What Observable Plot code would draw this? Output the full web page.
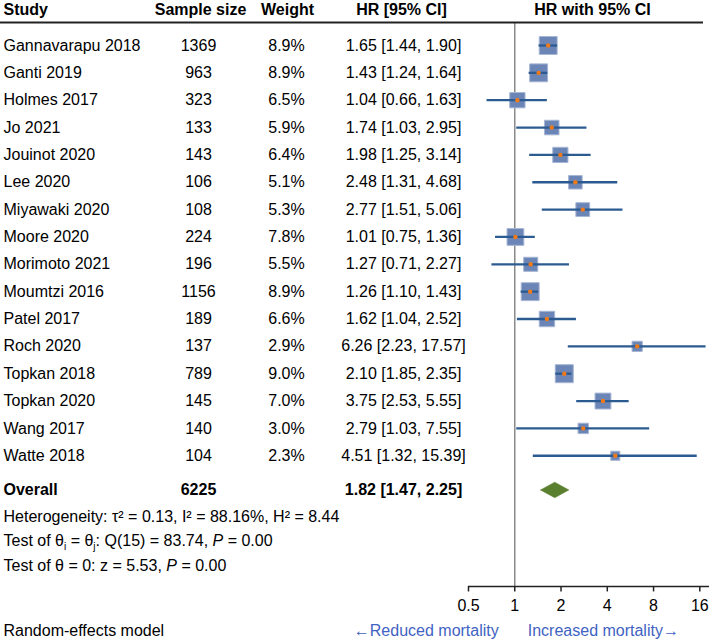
<!DOCTYPE html>
<html>
<head>
<meta charset="utf-8">
<script src="https://cdn.jsdelivr.net/npm/d3@7"></script>
<script src="https://cdn.jsdelivr.net/npm/@observablehq/plot@0.6"></script>
<style>
  html, body { margin: 0; padding: 0; background: #fff; }
  #chart { width: 709px; height: 641px; }
</style>
</head>
<body>
<div id="chart"></div>
<script>
// ---- data ----
const studies = ["Gannavarapu 2018","Ganti 2019","Holmes 2017","Jo 2021","Jouinot 2020","Lee 2020","Miyawaki 2020","Moore 2020","Morimoto 2021","Moumtzi 2016","Patel 2017","Roch 2020","Topkan 2018","Topkan 2020","Wang 2017","Watte 2018"];
const sampleSize = [1369,963,323,133,143,106,108,224,196,1156,189,137,789,145,140,104];
const weights = [8.9,8.9,6.5,5.9,6.4,5.1,5.3,7.8,5.5,8.9,6.6,2.9,9.0,7.0,3.0,2.3];
const hr = [1.65,1.43,1.04,1.74,1.98,2.48,2.77,1.01,1.27,1.26,1.62,6.26,2.10,3.75,2.79,4.51];
const ciLow = [1.44,1.24,0.66,1.03,1.25,1.31,1.51,0.75,0.71,1.10,1.04,2.23,1.85,2.53,1.03,1.32];
const ciHigh = [1.90,1.64,1.63,2.95,3.14,4.68,5.06,1.36,2.27,1.43,2.52,17.57,2.35,5.55,7.55,15.39];
const overallLabel = "Overall";
const overallN = 6225;
const overallHR = 1.82, overallLow = 1.47, overallHigh = 2.25;
const headers = ["Study","Sample size","Weight","HR [95% CI]","HR with 95% CI"];
const statLines = [
  "Heterogeneity: τ² = 0.13, I² = 88.16%, H² = 8.44",
  "Test of θ_i = θ_j: Q(15) = 83.74, *P* = 0.00",
  "Test of θ = 0: z = 5.53, *P* = 0.00"
];
const modelNote = "Random-effects model";
const axisTicks = [0.5, 1, 2, 4, 8, 16];
const axisTickLabels = ["0.5", "1", "2", "4", "8", "16"];
const leftLabel = "←Reduced mortality";
const rightLabel = "Increased mortality→";

// ---- layout ----
const fmt2 = d => d.toFixed(2);
const rows = studies.map((s, i) => ({
  study: s, n: String(sampleSize[i]), w: weights[i], hr: hr[i], lo: ciLow[i], hi: ciHigh[i], i,
  wLabel: weights[i].toFixed(1) + "%",
  ciLabel: `${fmt2(hr[i])} [${fmt2(ciLow[i])}, ${fmt2(ciHigh[i])}]`
}));
const ticks = axisTicks.map((v, i) => ({v, label: axisTickLabels[i]}));
const yHeader = -1.30, yHeaderLine = -0.84, yOverall = 16.25, yAxis = 19.78, yNote = 21.39;
const yTickEnd = 19.98, yTickLabel = 20.5;
const yStats = [17.24, 18.12, 19.01];
const xDomain = [0.5, 18.5];
const dH = 0.285;
const diamond = [
  {x: overallLow, y: yOverall}, {x: overallHR, y: yOverall - dH},
  {x: overallHigh, y: yOverall}, {x: overallHR, y: yOverall + dH},
  {x: overallLow, y: yOverall}
];
const col = {study: 3, n: 198, w: 286, ci: 403};
const hdrCol = [{t: headers[0], dx: 3, a: "start"}, {t: headers[1], dx: 200, a: "middle"},
  {t: headers[2], dx: 287, a: "middle"}, {t: headers[3], dx: 401, a: "middle"}, {t: headers[4], dx: 592, a: "middle"}];

const font = "Liberation Sans, Arial, Helvetica, sans-serif";
const blueLine = "#2b5b91";

const chart = Plot.plot({
  width: 709,
  height: 641,
  marginLeft: 0,
  marginRight: 6,
  marginTop: 0,
  marginBottom: 0,
  style: {fontFamily: font, fontSize: "16px", color: "#000", background: "#fff"},
  x: {type: "log", domain: xDomain, range: [468, 709], axis: null},
  y: {domain: [0, 15], range: [45, 45 + 15 * 27.35], axis: null},
  r: {type: "sqrt", domain: [0, 9], range: [0, 10.16]},
  marks: [
    // reference line at HR = 1
    Plot.ruleX([1], {y1: yHeaderLine, y2: yAxis, stroke: "#8a8a8a", strokeWidth: 1.5}),
    // header rule
    Plot.ruleY([yHeaderLine], {stroke: "#222", strokeWidth: 2}),
    // header texts
    ...hdrCol.map(h =>
      Plot.text([h], {text: "t", y: () => yHeader, frameAnchor: "left", dx: h.dx, textAnchor: h.a, fontWeight: "bold"})),
    // table columns
    Plot.text(rows, {text: "study", y: "i", frameAnchor: "left", dx: col.study, textAnchor: "start"}),
    Plot.text(rows, {text: "n", y: "i", frameAnchor: "left", dx: col.n, textAnchor: "middle"}),
    Plot.text(rows, {text: "wLabel", y: "i", frameAnchor: "left", dx: col.w, textAnchor: "middle"}),
    Plot.text(rows, {text: "ciLabel", y: "i", frameAnchor: "left", dx: col.ci, textAnchor: "middle"}),
    // overall row
    Plot.text([overallLabel], {text: d => d, y: () => yOverall, frameAnchor: "left", dx: col.study, textAnchor: "start", fontWeight: "bold"}),
    Plot.text([overallN], {text: d => String(d), y: () => yOverall, frameAnchor: "left", dx: col.n, textAnchor: "middle", fontWeight: "bold"}),
    Plot.text([overallHR], {text: d => `${fmt2(overallHR)} [${fmt2(overallLow)}, ${fmt2(overallHigh)}]`, y: () => yOverall, frameAnchor: "left", dx: col.ci, textAnchor: "middle", fontWeight: "bold"}),
    // stats
    Plot.text(statLines, {text: d => d, y: (d, i) => yStats[i], frameAnchor: "left", dx: col.study, textAnchor: "start"}),
    Plot.text([modelNote], {text: d => d, y: () => yNote, frameAnchor: "left", dx: col.study, textAnchor: "start"}),
    // forest: squares, CI lines, point dots
    Plot.dot(rows, {x: "hr", y: "i", r: "w", symbol: "square", fill: "#6b85b6", stroke: "#a7b6d4", strokeWidth: 1}),
    Plot.ruleY(rows, {y: "i", x1: "lo", x2: "hi", stroke: blueLine, strokeWidth: 2.3}),
    Plot.dot(rows, {x: "hr", y: "i", r: 2.2, fill: "#f07a1a", stroke: null}),
    // overall diamond
    Plot.line(diamond, {x: "x", y: "y", fill: "#5a7f2e", stroke: "#5a7f2e", strokeWidth: 0.5}),
    // axis
    Plot.ruleY([yAxis], {x1: xDomain[0], x2: xDomain[1], stroke: "#222", strokeWidth: 1.5}),
    Plot.ruleX(ticks, {x: "v", y1: yAxis, y2: yTickEnd, stroke: "#222", strokeWidth: 1.5}),
    Plot.text(ticks, {x: "v", y: () => yTickLabel, text: "label", fill: "#000"}),
    // direction labels
    Plot.text([leftLabel], {text: d => d, x: () => 1, y: () => yNote, textAnchor: "end", dx: -16, fill: "#3f63c2"}),
    Plot.text([rightLabel], {text: d => d, x: () => 1, y: () => yNote, textAnchor: "start", dx: 13, fill: "#3f63c2"})
  ]
});

// rich text: subscripts (_x) and italics (*x*)
d3.select(chart).selectAll("text").each(function () {
  const t = this.textContent;
  if (!/_[a-z]|\*[^*]+\*/.test(t) || this.children.length) return;
  const parts = t.split(/(_[a-z]|\*[^*]+\*)/).filter(p => p !== "");
  this.textContent = "";
  const sel = d3.select(this);
  let shifted = false;
  for (const p of parts) {
    const ts = sel.append("tspan");
    if (p.startsWith("_")) {
      ts.text(p.slice(1)).attr("font-size", "10px").attr("dy", "4");
      shifted = true;
    } else {
      if (shifted) { ts.attr("dy", "-4"); shifted = false; }
      if (p.startsWith("*")) ts.text(p.slice(1, -1)).attr("font-style", "italic");
      else ts.text(p);
    }
  }
});

document.getElementById("chart").appendChild(chart);
</script>
</body>
</html>
